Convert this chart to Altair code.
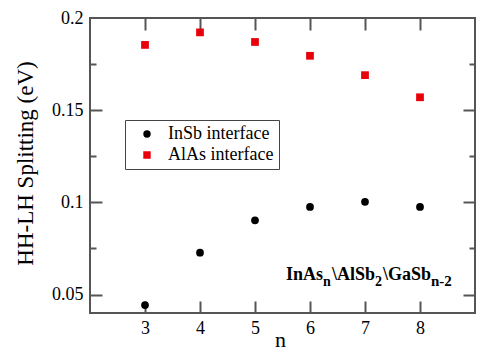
import altair as alt
import pandas as pd

n_values = [3, 4, 5, 6, 7, 8]
insb_values = [0.0443, 0.0727, 0.0903, 0.0975, 0.1003, 0.0975]
alas_values = [0.1854, 0.1922, 0.1870, 0.1795, 0.1690, 0.1570]
series_names = ["InSb interface", "AlAs interface"]
x_ticks = [3, 4, 5, 6, 7, 8]
y_labels = [0.05, 0.1, 0.15, 0.2]
y_ticks = [0.05, 0.075, 0.1, 0.125, 0.15, 0.175]

rows = []
for n, v in zip(n_values, insb_values):
    rows.append({"n": n, "value": v, "series": series_names[0]})
for n, v in zip(n_values, alas_values):
    rows.append({"n": n, "value": v, "series": series_names[1]})
df = pd.DataFrame(rows)

W, H = 385, 295
FONT = "Liberation Serif"
AX = "#555555"

xscale = alt.Scale(domain=[2, 9], nice=False, zero=False)
yscale = alt.Scale(domain=[0.04, 0.2], nice=False, zero=False)

legend = alt.Legend(
    title=None, orient="none", legendX=35, legendY=102,
    strokeColor="#444444", fillColor="white", padding=5,
    labelFont=FONT, labelFontSize=18, labelColor="black",
    labelExpr="datum.label + '     '",
    symbolSize=55, symbolOffset=8, labelOffset=12, rowPadding=3,
    clipHeight=18, symbolStrokeWidth=0,
)

points = alt.Chart(df).mark_point(filled=True, size=60, opacity=1).encode(
    x=alt.X("n:Q", scale=xscale, axis=alt.Axis(
        orient="bottom", values=x_ticks, ticks=False, tickSize=0, domain=False,
        grid=False, labelFont=FONT, labelFontSize=18, labelColor="black",
        labelPadding=6, title="n", titleFont=FONT, titleFontSize=22,
        titleFontWeight="normal", titleColor="black", titleX=190, titleY=33,
        titleBaseline="alphabetic", titleAlign="center")),
    y=alt.Y("value:Q", scale=yscale, axis=alt.Axis(
        orient="left", values=y_labels, format="~g", ticks=False, tickSize=0,
        domain=False, grid=False, labelFont=FONT, labelFontSize=18,
        labelColor="black", labelPadding=7, title="HH-LH Splitting (eV)",
        titleFont=FONT, titleFontSize=23, titleFontWeight="normal",
        titleColor="black", titleAngle=-90, titleX=-58, titleY=145,
        titleBaseline="alphabetic", titleAlign="center")),
    color=alt.Color("series:N", scale=alt.Scale(domain=series_names, range=["black", "#e8000b"]), legend=legend),
    shape=alt.Shape("series:N", scale=alt.Scale(domain=series_names, range=["circle", "square"]), legend=legend),
)

ann_x = 5.5636
ann_y = 0.0581
pieces = [
    ("InAs", 0, 0, 18),
    ("n", 37, 6, 14),
    ("\\AlSb", 46, 0, 18),
    ("2", 89, 6, 14),
    ("\\GaSb", 97, 0, 18),
    ("n-2", 145, 6, 15),
]

tick_size = {"condition": {"test": "round(datum.value*1000) % 50 != 0", "value": 6}, "value": 12}


def tick_axis_x(orient):
    return alt.Axis(orient=orient, offset=-H, values=x_ticks, labels=False, domain=False,
                    grid=False, title=None, tickSize=12, tickColor=AX, tickWidth=2)


def tick_axis_y(orient):
    return alt.Axis(orient=orient, offset=-W, values=y_ticks, labels=False, domain=False,
                    grid=False, title=None, tickSize=tick_size, tickColor=AX, tickWidth=2)


layers = [points]
for i, (txt, dx, dy, fs) in enumerate(pieces):
    tdf = pd.DataFrame({"x": [ann_x], "y": [ann_y], "t": [txt]})
    if i == 0:
        xa, ya = tick_axis_x("top"), tick_axis_y("right")
    elif i == 1:
        xa, ya = tick_axis_x("bottom"), tick_axis_y("left")
    else:
        xa, ya = None, None
    layers.append(
        alt.Chart(tdf).mark_text(align="left", baseline="alphabetic", dx=dx, dy=dy,
                                 font=FONT, fontWeight="bold", fontSize=fs, color="black").encode(
            x=alt.X("x:Q", scale=xscale, axis=xa),
            y=alt.Y("y:Q", scale=yscale, axis=ya),
            text="t:N",
        )
    )

chart = alt.layer(*layers).resolve_axis(x="independent", y="independent").properties(
    width=W, height=H,
    autosize=alt.AutoSizeParams(type="none"),
    padding={"left": 90, "top": 18, "right": 3, "bottom": 39},
    background="white",
).configure(font=FONT).configure_axis(
    labelFont=FONT, titleFont=FONT
).configure_legend(
    labelFont=FONT
).configure_text(font=FONT).configure_view(stroke=AX, strokeWidth=2)

chart.save("out.html", embed_options={"renderer": "svg", "actions": False})
